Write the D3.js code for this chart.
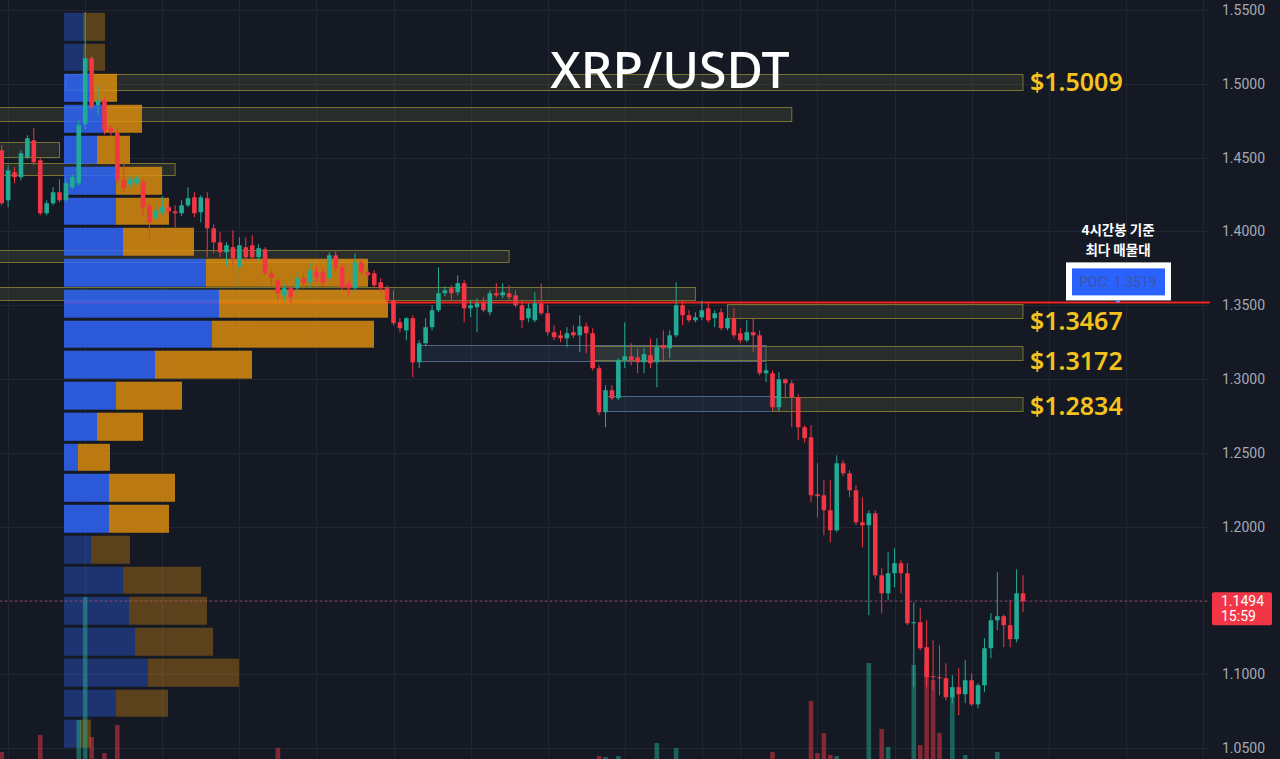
<!DOCTYPE html>
<html>
<head>
<meta charset="utf-8">
<script src="https://cdn.jsdelivr.net/npm/d3@7"></script>
<style>
  html, body { margin: 0; padding: 0; background: #151924; overflow: hidden; }
  svg { display: block; }
</style>
</head>
<body>
<svg id="chart" width="1280" height="759"></svg>
<script>
// 4h XRP/USDT candles, [open, high, low, close]
const ohlc = [
  [1.4550,1.4584,1.4177,1.4191],[1.4211,1.4448,1.4164,1.4414],[1.4401,1.4435,1.4326,1.4367],[1.4367,1.4550,1.4346,1.4529],
  [1.4502,1.4651,1.4489,1.4631],[1.4617,1.4699,1.4448,1.4468],[1.4482,1.4496,1.4109,1.4123],[1.4123,1.4211,1.4109,1.4191],
  [1.4191,1.4299,1.4177,1.4265],[1.4265,1.4353,1.4197,1.4211],[1.4211,1.4360,1.4197,1.4326],[1.4299,1.4387,1.4286,1.4367],
  [1.4326,1.4753,1.4306,1.4719],[1.4726,1.5485,1.4692,1.5173],[1.5173,1.5187,1.4821,1.4841],[1.4855,1.4990,1.4787,1.4888],
  [1.4888,1.4902,1.4658,1.4685],[1.4699,1.4719,1.4645,1.4672],[1.4672,1.4699,1.4319,1.4346],[1.4346,1.4468,1.4265,1.4292],
  [1.4319,1.4380,1.4292,1.4353],[1.4326,1.4380,1.4313,1.4360],[1.4333,1.4360,1.4109,1.4164],[1.4177,1.4191,1.3954,1.4062],
  [1.4089,1.4177,1.4075,1.4143],[1.4130,1.4238,1.4109,1.4164],[1.4164,1.4191,1.4109,1.4136],[1.4136,1.4177,1.4028,1.4123],
  [1.4123,1.4211,1.4103,1.4177],[1.4177,1.4299,1.4164,1.4225],[1.4231,1.4265,1.4096,1.4123],[1.4130,1.4245,1.4062,1.4231],
  [1.4225,1.4265,1.3825,1.4021],[1.4021,1.4048,1.3852,1.3926],[1.3926,1.3994,1.3825,1.3859],[1.3859,1.3926,1.3771,1.3906],
  [1.3893,1.4008,1.3771,1.3818],[1.3757,1.3960,1.3635,1.3906],[1.3893,1.3960,1.3791,1.3825],[1.3906,1.3974,1.3804,1.3825],
  [1.3825,1.3913,1.3804,1.3886],[1.3879,1.3893,1.3703,1.3716],[1.3716,1.3737,1.3635,1.3683],[1.3669,1.3683,1.3533,1.3581],
  [1.3567,1.3642,1.3533,1.3615],[1.3615,1.3628,1.3513,1.3554],[1.3615,1.3723,1.3581,1.3683],[1.3683,1.3716,1.3615,1.3649],
  [1.3655,1.3791,1.3615,1.3737],[1.3723,1.3764,1.3655,1.3689],[1.3723,1.3750,1.3628,1.3655],[1.3683,1.3859,1.3655,1.3838],
  [1.3838,1.3865,1.3716,1.3750],[1.3757,1.3784,1.3601,1.3622],[1.3649,1.3669,1.3567,1.3615],[1.3615,1.3852,1.3588,1.3791],
  [1.3791,1.3818,1.3703,1.3723],[1.3723,1.3750,1.3669,1.3703],[1.3716,1.3737,1.3615,1.3635],[1.3655,1.3683,1.3588,1.3615],
  [1.3615,1.3635,1.3500,1.3533],[1.3533,1.3601,1.3364,1.3378],[1.3384,1.3412,1.3317,1.3344],[1.3330,1.3418,1.3262,1.3412],
  [1.3412,1.3432,1.3012,1.3113],[1.3113,1.3262,1.3073,1.3242],[1.3242,1.3412,1.3222,1.3351],[1.3351,1.3500,1.3330,1.3466],
  [1.3466,1.3757,1.3452,1.3581],[1.3581,1.3628,1.3561,1.3601],[1.3615,1.3635,1.3533,1.3581],[1.3588,1.3703,1.3567,1.3649],
  [1.3649,1.3669,1.3384,1.3479],[1.3479,1.3533,1.3418,1.3500],[1.3486,1.3547,1.3317,1.3513],[1.3520,1.3554,1.3452,1.3466],
  [1.3452,1.3601,1.3432,1.3581],[1.3581,1.3649,1.3554,1.3567],[1.3567,1.3649,1.3547,1.3588],[1.3581,1.3635,1.3533,1.3554],
  [1.3567,1.3601,1.3486,1.3500],[1.3500,1.3533,1.3344,1.3398],[1.3412,1.3513,1.3384,1.3479],[1.3398,1.3588,1.3384,1.3513],
  [1.3513,1.3649,1.3432,1.3445],[1.3445,1.3500,1.3296,1.3317],[1.3317,1.3364,1.3262,1.3283],[1.3296,1.3330,1.3249,1.3276],
  [1.3276,1.3351,1.3215,1.3310],[1.3317,1.3364,1.3276,1.3296],[1.3296,1.3432,1.3181,1.3357],[1.3357,1.3384,1.3174,1.3310],
  [1.3310,1.3344,1.3059,1.3073],[1.3073,1.3093,1.2754,1.2775],[1.2775,1.2958,1.2673,1.2924],[1.2924,1.2958,1.2856,1.2870],
  [1.2870,1.3141,1.2856,1.3127],[1.3127,1.3384,1.3073,1.3154],[1.3154,1.3242,1.3093,1.3127],[1.3147,1.3208,1.3039,1.3113],
  [1.3113,1.3208,1.3039,1.3168],[1.3161,1.3276,1.3073,1.3107],[1.3113,1.3276,1.2944,1.3215],[1.3229,1.3330,1.3113,1.3208],
  [1.3208,1.3330,1.3141,1.3296],[1.3296,1.3655,1.3283,1.3500],[1.3500,1.3533,1.3364,1.3432],[1.3432,1.3466,1.3384,1.3398],
  [1.3398,1.3452,1.3384,1.3418],[1.3418,1.3533,1.3398,1.3466],[1.3479,1.3513,1.3384,1.3398],[1.3412,1.3466,1.3351,1.3445],
  [1.3452,1.3479,1.3330,1.3344],[1.3344,1.3432,1.3330,1.3412],[1.3412,1.3479,1.3276,1.3296],[1.3310,1.3344,1.3242,1.3262],
  [1.3262,1.3398,1.3249,1.3317],[1.3317,1.3412,1.3181,1.3296],[1.3296,1.3330,1.3025,1.3039],[1.3039,1.3107,1.2978,1.3059],
  [1.3039,1.3059,1.2788,1.2809],[1.2809,1.3046,1.2788,1.2998],[1.2998,1.3005,1.2870,1.2971],[1.2971,1.2991,1.2673,1.2876],
  [1.2876,1.2897,1.2585,1.2673],[1.2673,1.2687,1.2571,1.2599],[1.2605,1.2687,1.2165,1.2212],[1.2219,1.2429,1.2063,1.2206],
  [1.2212,1.2314,1.1941,1.2111],[1.2111,1.2314,1.1894,1.1975],[1.1975,1.2483,1.1962,1.2429],[1.2429,1.2449,1.2341,1.2361],
  [1.2361,1.2382,1.2199,1.2246],[1.2246,1.2280,1.2009,1.2029],[1.2029,1.2199,1.1860,1.2009],[1.2009,1.2111,1.1399,1.2090],
  [1.2090,1.2111,1.1650,1.1670],[1.1670,1.1718,1.1413,1.1548],[1.1548,1.1826,1.1501,1.1684],[1.1684,1.1853,1.1589,1.1752],
  [1.1752,1.1772,1.1548,1.1684],[1.1684,1.1752,1.1332,1.1345],[1.1345,1.1487,1.0912,1.1352],[1.1352,1.1447,1.1162,1.1176],
  [1.1183,1.1365,1.0912,1.0979],[1.0986,1.1230,1.0891,1.0979],[1.0979,1.1196,1.0857,1.0973],[1.0973,1.1074,1.0823,1.0844],
  [1.0844,1.0993,1.0803,1.0912],[1.0912,1.1040,1.0722,1.0864],[1.0864,1.1094,1.0803,1.0959],[1.0959,1.1006,1.0783,1.0796],
  [1.0796,1.0940,1.0769,1.0925],[1.0925,1.1244,1.0878,1.1176],[1.1176,1.1413,1.1108,1.1365],[1.1365,1.1691,1.1298,1.1393],
  [1.1393,1.1406,1.1183,1.1332],[1.1332,1.1501,1.1183,1.1237],[1.1237,1.1711,1.1216,1.1548],[1.1548,1.1670,1.1420,1.1494]
];

// volume per candle (M XRP)
const volumes = [
  20,6,5,7,8,9,37,6,5,4,6,8,52,175,35,9,19,7,47,8,
  5,4,10,9,5,4,4,6,5,6,5,7,10,8,6,5,7,9,5,4,
  4,8,6,24,7,6,5,4,6,4,5,7,5,6,4,8,5,3,5,4,
  6,9,5,6,10,7,5,6,9,4,3,5,8,4,6,3,5,3,4,3,
  4,7,5,6,6,7,4,3,4,3,6,5,10,16,15,6,16,10,5,4,
  5,6,29,5,7,24,6,4,3,5,4,4,5,3,6,5,4,7,10,5,
  20,9,4,9,10,6,71,19,39,17,16,6,9,11,10,109,11,43,25,8,
  7,11,107,27,107,92,39,10,75,9,17,8,7,10,9,20,6,8,11,5
];

const priceTicks = [1.55, 1.50, 1.45, 1.40, 1.35, 1.30, 1.25, 1.20, 1.15, 1.10, 1.05];
// candle index of the vertical time grid lines
const timeGrid = [1, 13, 25, 37, 49, 61, 73, 85, 97, 109, 115, 127, 139, 151, 163, 175, 187];

// visible range volume profile, bin edges from top to bottom
const profileEdges = [1.5491, 1.5281, 1.5078, 1.4868, 1.4658, 1.4448, 1.4238, 1.4035, 1.3825, 1.3615, 1.3405, 1.3202, 1.2992,
  1.2782, 1.2571, 1.2368, 1.2158, 1.1948, 1.1738, 1.1535, 1.1325, 1.1115, 1.0905, 1.0702, 1.0492];
const profileBuy = [19, 19, 29, 40, 33, 52, 52, 59, 142, 155, 148, 91, 52, 33, 14, 45, 45, 27, 59, 65, 71, 84, 52, 16];
const profileSell = [22, 22, 24, 38, 33, 46, 53, 71, 162, 169, 162, 97, 66, 46, 32, 66, 60, 39, 78, 78, 78, 91, 52, 11];
const valueArea = [1.1948, 1.5078];
const pocPrice = 1.3519;

// zones: [start candle, end candle, top price, bottom price]
const supplyZones = [
  [10, 159, 1.5065, 1.4956],
  [0, 123, 1.4841, 1.4746],
  [0, 9, 1.4604, 1.4502],
  [0, 27, 1.4462, 1.4380],
  [0, 79, 1.3872, 1.3791],
  [0, 108, 1.3622, 1.3533],
  [113, 159, 1.3506, 1.3412],
  [92, 159, 1.3222, 1.3127],
  [120, 159, 1.2876, 1.2781]
];
const demandZones = [
  [65, 119, 1.3229, 1.3120],
  [94, 121, 1.2883, 1.2781]
];
const levelLabels = [1.5009, 1.3467, 1.3172, 1.2834];

const lastPrice = 1.1494;
const countdown = "15:59";
const title = "XRP/USDT";
const noteLines = ["4시간봉 기준", "최다 매물대"];

// ---------------------------------------------------------------

const width = 1280;
const height = 759;
const plotRight = 1210;
const upColor = "#22ab94";
const downColor = "#f23645";
// the level labels were placed by hand, a little off their levels
const labelNudge = [0, 11, 7, 2];

const svg = d3.select("#chart");

svg.append("rect").attr("width", width).attr("height", height).attr("fill", "#151924");

const xScale = d3.scaleLinear()
  .domain([0, ohlc.length - 1])
  .range([1.7, 1023]);

const yScale = d3.scaleLinear()
  .domain([1.05, 1.55])
  .range([748, 10]);

const volScale = d3.scaleLinear()
  .domain([0, 100])
  .range([772, 672]);

const profileX = d3.scaleLinear()
  .domain([0, 324])
  .range([64, 388]);

const candleW = 4.6;

// grid
const grid = svg.append("g").attr("class", "grid");
grid.selectAll("line.h")
  .data(priceTicks)
  .join("line")
  .attr("class", "h")
  .attr("x1", 0).attr("x2", plotRight)
  .attr("y1", d => Math.round(yScale(d)) + 0.5)
  .attr("y2", d => Math.round(yScale(d)) + 0.5)
  .attr("stroke", "#222633");
grid.selectAll("line.v")
  .data(timeGrid)
  .join("line")
  .attr("class", "v")
  .attr("y1", 0).attr("y2", height)
  .attr("x1", d => Math.round(xScale(d)) + 0.5)
  .attr("x2", d => Math.round(xScale(d)) + 0.5)
  .attr("stroke", "#222633");

// zones
const zoneRect = (g, data, stroke, fill) => {
  g.selectAll("rect")
    .data(data)
    .join("rect")
    .attr("x", d => d[0] === 0 ? -2 : xScale(d[0]))
    .attr("width", d => xScale(d[1]) - (d[0] === 0 ? -2 : xScale(d[0])))
    .attr("y", d => Math.round(yScale(d[2])) + 0.5)
    .attr("height", d => Math.round(yScale(d[3]) - yScale(d[2])))
    .attr("fill", fill)
    .attr("stroke", stroke)
    .attr("stroke-width", 1);
};
zoneRect(svg.append("g"), demandZones, "#4c6684", "rgba(70,110,170,0.14)");
zoneRect(svg.append("g"), supplyZones, "#77742f", "rgba(120,118,70,0.20)");

// POC line
svg.append("line")
  .attr("x1", 64).attr("x2", plotRight)
  .attr("y1", yScale(pocPrice)).attr("y2", yScale(pocPrice))
  .attr("stroke", "#f5211c")
  .attr("stroke-width", 2);

// volume profile
const rows = profileBuy.map((b, i) => ({
  hi: profileEdges[i],
  lo: profileEdges[i + 1],
  buy: b,
  sell: profileSell[i]
}));
const inVA = d => d.lo >= valueArea[0] - 1e-6 && d.hi <= valueArea[1] + 1e-6;

const prof = svg.append("g").attr("class", "profile");
const rowG = prof.selectAll("g")
  .data(rows)
  .join("g")
  .attr("opacity", d => inVA(d) ? 0.82 : 0.35);
rowG.append("rect")
  .attr("x", profileX(0))
  .attr("y", d => yScale(d.hi) + 1.5)
  .attr("height", d => yScale(d.lo) - yScale(d.hi) - 3)
  .attr("width", d => profileX(d.buy) - profileX(0))
  .attr("fill", "#3068ff");
rowG.append("rect")
  .attr("x", d => profileX(d.buy))
  .attr("y", d => yScale(d.hi) + 1.5)
  .attr("height", d => yScale(d.lo) - yScale(d.hi) - 3)
  .attr("width", d => profileX(d.buy + d.sell) - profileX(d.buy))
  .attr("fill", "#e08f0f");

// volume bars
svg.append("g")
  .selectAll("rect")
  .data(volumes)
  .join("rect")
  .attr("x", (d, i) => xScale(i) - candleW / 2)
  .attr("width", candleW)
  .attr("y", d => volScale(d))
  .attr("height", d => volScale(0) - volScale(d))
  .attr("fill", (d, i) => ohlc[i][3] >= ohlc[i][0] ? upColor : downColor)
  .attr("opacity", 0.5);

// candles
const candles = svg.append("g")
  .selectAll("g")
  .data(ohlc)
  .join("g")
  .attr("fill", d => d[3] >= d[0] ? upColor : downColor)
  .attr("stroke", d => d[3] >= d[0] ? upColor : downColor);
candles.append("line")
  .attr("x1", (d, i) => xScale(i)).attr("x2", (d, i) => xScale(i))
  .attr("y1", d => yScale(d[1])).attr("y2", d => yScale(d[2]))
  .attr("stroke-width", 1);
candles.append("rect")
  .attr("stroke", "none")
  .attr("x", (d, i) => xScale(i) - candleW / 2)
  .attr("width", candleW)
  .attr("y", d => yScale(Math.max(d[0], d[3])))
  .attr("height", d => Math.max(1, Math.abs(yScale(d[0]) - yScale(d[3]))));

// last price line
svg.append("line")
  .attr("x1", 0).attr("x2", plotRight)
  .attr("y1", yScale(lastPrice)).attr("y2", yScale(lastPrice))
  .attr("stroke", "#c2456a")
  .attr("stroke-width", 1)
  .attr("stroke-dasharray", "2,3")
  .attr("opacity", 0.8);

// price axis
const axis = svg.append("g")
  .attr("transform", `translate(${plotRight + 3}, 0)`)
  .call(d3.axisRight(yScale).tickValues(priceTicks).tickFormat(d3.format(".4f")).tickSize(0).tickPadding(9));
axis.select(".domain").remove();
axis.selectAll("text")
  .attr("fill", "#a7aab3")
  .attr("font-family", "Roboto, sans-serif")
  .attr("font-size", 14);

// last price tag
const tag = svg.append("g").attr("transform", `translate(1212, ${yScale(lastPrice) - 9})`);
tag.append("rect").attr("width", 60).attr("height", 33).attr("rx", 2).attr("fill", "#f23645");
tag.append("text")
  .attr("fill", "#fff").attr("font-family", "Roboto, sans-serif").attr("font-size", 14)
  .selectAll("tspan")
  .data([d3.format(".4f")(lastPrice), countdown])
  .join("tspan")
  .attr("x", 9)
  .attr("y", (d, i) => 14 + i * 15)
  .text(d => d);

// level labels
svg.append("g")
  .selectAll("text")
  .data(levelLabels)
  .join("text")
  .attr("x", 1030)
  .attr("y", (d, i) => yScale(d) + 9 + labelNudge[i])
  .attr("fill", "#f4c21c")
  .attr("font-family", "'Noto Sans', sans-serif")
  .attr("font-size", 25)
  .attr("font-weight", 600)
  .text(d => "$" + d3.format(".4f")(d));

// title
svg.append("text")
  .attr("x", 670).attr("y", 88)
  .attr("text-anchor", "middle")
  .attr("fill", "#ffffff")
  .attr("font-family", "'Noto Sans', sans-serif")
  .attr("font-size", 50)
  .attr("font-weight", 500)
  .text(title);

// POC note
const pocY = yScale(pocPrice);
svg.append("g")
  .selectAll("text")
  .data(noteLines)
  .join("text")
  .attr("x", 1118)
  .attr("y", (d, i) => pocY - 67 + i * 20)
  .attr("text-anchor", "middle")
  .attr("fill", "#ffffff")
  .attr("font-family", "'Noto Sans CJK KR', sans-serif")
  .attr("font-size", 13.5)
  .attr("font-weight", 700)
  .text(d => d);

const poc = svg.append("g");
poc.append("rect").attr("x", 1066).attr("y", pocY - 40).attr("width", 105).attr("height", 38).attr("fill", "#ffffff");
poc.append("rect").attr("x", 1072).attr("y", pocY - 34).attr("width", 93).attr("height", 27).attr("fill", "#2962ff");
poc.append("text")
  .attr("x", 1118).attr("y", pocY - 15)
  .attr("text-anchor", "middle")
  .attr("fill", "#3f55a0")
  .attr("font-family", "Roboto, sans-serif")
  .attr("font-size", 14)
  .text("POC: " + d3.format(".4f")(pocPrice));
poc.append("rect").attr("x", 1116).attr("y", pocY - 2).attr("width", 4).attr("height", 2).attr("fill", "#6f8cff");
</script>
</body>
</html>
